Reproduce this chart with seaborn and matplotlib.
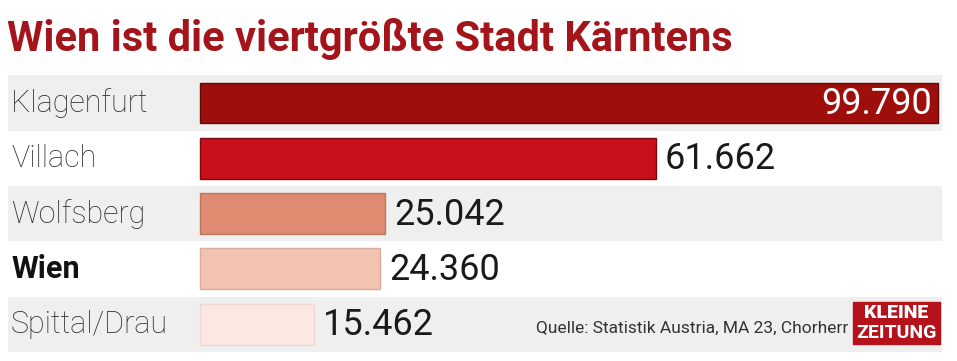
import matplotlib
matplotlib.use("Agg")
import matplotlib.pyplot as plt
import seaborn as sns
import pandas as pd
from matplotlib.patches import Rectangle

# data
cities = ["Klagenfurt", "Villach", "Wolfsberg", "Wien", "Spittal/Drau"]
population = [99790, 61662, 25042, 24360, 15462]
value_labels = ["99.790", "61.662", "25.042", "24.360", "15.462"]
bar_colors = ["#9e0f0b", "#c9101a", "#e08b71", "#f2c3b0", "#fbe8e2"]
edge_colors = ["#5e0a07", "#7a0a0e", "#b8775f", "#d9ad9b", "#eed8d0"]

title = "Wien ist die viertgrößte Stadt Kärntens"
source = "Quelle: Statistik Austria, MA 23, Chorherr"

sns.set_style("white")
plt.rcParams["font.family"] = ["Roboto", "DejaVu Sans"]

W, H = 957, 361
fig = plt.figure(figsize=(W / 100, H / 100), dpi=100)
ax = fig.add_axes([0, 0, 1, 1])

df = pd.DataFrame({"city": cities, "pop": population})

sns.barplot(data=df, y="city", x="pop", orient="h", hue="city",
            palette=bar_colors, saturation=1, legend=False, width=0.74,
            ax=ax, zorder=2)
for cont, ec in zip(ax.containers, edge_colors):
    for patch in cont:
        patch.set_edgecolor(ec)
        patch.set_linewidth(1.0)

# pixel geometry -> data limits
x0_px, xmax_px = 200, 938
k = (xmax_px - x0_px) / max(population)
row0_px, pitch = 103, 55.3
ax.set_xlim(-x0_px / k, (W - x0_px) / k)
ax.set_ylim((H - row0_px) / pitch, -row0_px / pitch)

# alternating row bands
for i in range(len(cities)):
    if i % 2 == 0:
        ax.axhspan(i - 0.5, i + 0.5, xmin=8 / W, xmax=942 / W,
                   facecolor="#efefef", zorder=0, lw=0)

for i, (name, v, lab) in enumerate(zip(cities, population, value_labels)):
    ax.text(-189 / k, i, name, ha="left", va="center", fontsize=22,
            fontweight="bold" if name == "Wien" else "light",
            color="#111111" if name == "Wien" else "#2e2e2e")
    if i == 0:
        ax.text(v - 6 / k, i + 0.02, lab, ha="right", va="center",
                fontsize=26, color="white")
    else:
        ax.text(v + 9 / k, i + 0.02, lab, ha="left", va="center",
                fontsize=26, color="#1a1a1a")

ax.set_axis_off()

fig.text(7 / W, 1 - 39 / H, title, ha="left", va="center", fontsize=30,
         fontweight="bold", color="#a3151a")
fig.text(848 / W, 1 - 328 / H, source, ha="right", va="center",
         fontsize=12.5, color="#333333")

# newspaper logo box
fig.patches.append(Rectangle((853 / W, 1 - 344 / H), 87 / W, 42 / H,
                             transform=fig.transFigure, color="#b5121b",
                             zorder=5))
fig.text(896.5 / W, 1 - 313 / H, "KLEINE", ha="center", va="center",
         fontsize=14, fontweight="black", color="white", zorder=6)
fig.text(896.5 / W, 1 - 333 / H, "ZEITUNG", ha="center", va="center",
         fontsize=14, fontweight="bold", color="white", zorder=6)

fig.savefig("out.png", dpi=100, facecolor="white")
